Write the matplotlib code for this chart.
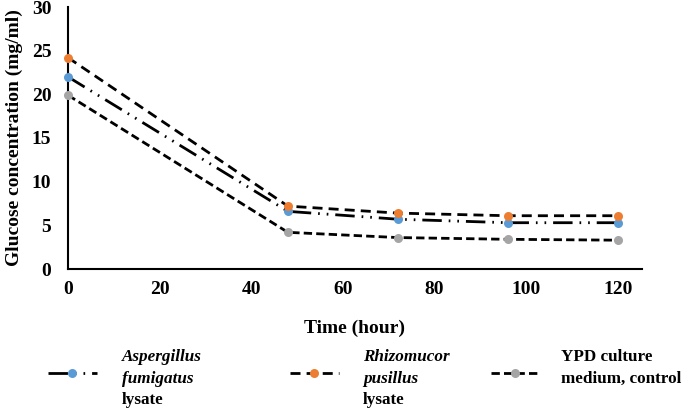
import matplotlib
matplotlib.use("Agg")
import matplotlib.pyplot as plt
from matplotlib.lines import Line2D

# Time points (hours) and glucose concentration (mg/ml)
hours = [0, 48, 72, 96, 120]
aspergillus = [22.0, 6.6, 5.7, 5.3, 5.3]
rhizomucor = [24.2, 7.2, 6.4, 6.1, 6.1]
ypd_control = [19.9, 4.2, 3.6, 3.4, 3.3]

# legend text, one (line, italic?) pair per row
legend_lines = [
    [("Aspergillus", True), ("fumigatus", True), ("lysate", False)],
    [("Rhizomucor", True), ("pusillus", True), ("lysate", False)],
    [("YPD culture", False), ("medium, control", False)],
]
colors = ["#5B9BD5", "#ED7D31", "#A5A5A5"]
dashes = [(7, 2.5, 0.6, 2.5, 0.6, 2.5), (3.6, 2.2), (3.0, 1.5)]

plt.rcParams["font.family"] = ["Liberation Serif", "DejaVu Serif"]
plt.rcParams["font.weight"] = "bold"

W, H = 685, 409
fig = plt.figure(figsize=(6.85, 4.09), dpi=100)
ax = fig.add_axes([68 / W, 1 - 269 / H, 574 / W, 262 / H])

series = [aspergillus, rhizomucor, ypd_control]
handles = []
for vals, col, ds in zip(series, colors, dashes):
    ax.plot(hours, vals, color="black", linewidth=2, dashes=ds, zorder=2)
    ax.plot(hours, vals, "o", color=col, markersize=6.5, markeredgewidth=0,
            zorder=3, clip_on=False)
    handles.append(Line2D([], [], color="black", linewidth=2, dashes=ds,
                          marker="o", markerfacecolor=col, markeredgewidth=0,
                          markersize=6.5))

ax.set_xlim(0, 125.3)
ax.set_ylim(0, 30)
ax.set_xticks([0, 20, 40, 60, 80, 100, 120])
ax.set_yticks([0, 5, 10, 15, 20, 25, 30])
ax.tick_params(axis="both", length=0, labelsize=14)
ax.tick_params(axis="y", pad=12)
ax.tick_params(axis="x", pad=9)
for side in ("top", "right"):
    ax.spines[side].set_visible(False)
for side in ("left", "bottom"):
    ax.spines[side].set_linewidth(1.5)

ax.set_xlabel("Time (hour)", fontsize=14, fontweight="bold", labelpad=15)
ax.set_ylabel("Glucose concentration (mg/ml)", fontsize=14, fontweight="bold",
              labelpad=6)

# legend: keys via fig.legend, text rows placed like the original columns
key_x = [48, 290, 491]
text_x = [122, 363, 561]
row_y = [357, 379, 400]
for h, kx, tx, rows in zip(handles, key_x, text_x, legend_lines):
    fig.legend(handles=[h], labels=[""], loc="center left",
               bbox_to_anchor=(kx / W, 1 - 375 / H), frameon=False,
               fontsize=12.5, handlelength=2.8, handletextpad=0,
               borderpad=0, borderaxespad=0)
    for (txt, ital), ry in zip(rows, row_y):
        fig.text(tx / W, 1 - ry / H, txt, fontsize=12.3, fontweight="bold",
                 fontstyle="italic" if ital else "normal",
                 ha="left", va="center")

fig.savefig("out.png", dpi=100)
